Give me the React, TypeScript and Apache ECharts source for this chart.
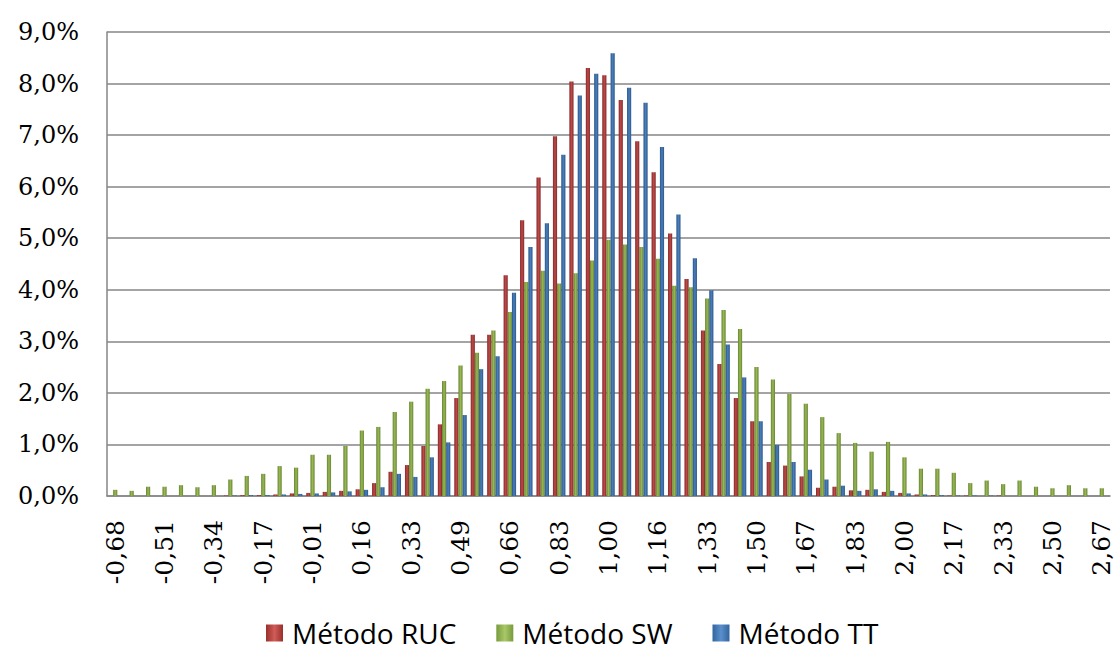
import React, { useEffect, useRef } from "react";
import * as echarts from "echarts";

const categories = [
  "-0,68","-0,62","-0,57","-0,51","-0,46","-0,40","-0,34","-0,29","-0,23","-0,17",
  "-0,12","-0,07","-0,01","0,05","0,10","0,16","0,21","0,27","0,33","0,38",
  "0,44","0,49","0,55","0,60","0,66","0,72","0,77","0,83","0,88","0,94",
  "1,00","1,05","1,11","1,16","1,22","1,27","1,33","1,39","1,44","1,50",
  "1,55","1,61","1,67","1,72","1,78","1,83","1,89","1,94","2,00","2,06",
  "2,11","2,17","2,22","2,28","2,33","2,39","2,45","2,50","2,56","2,61",
  "2,67",
];

const rucValues = [
  0,0,0,0,0,0,0,0.01,0.02,0.02,
  0.03,0.05,0.06,0.08,0.1,0.13,0.25,0.47,0.6,0.97,
  1.39,1.9,3.13,3.13,4.28,5.35,6.18,6.98,8.04,8.3,
  8.16,7.68,6.88,6.28,5.09,4.21,3.21,2.56,1.9,1.45,
  0.66,0.59,0.38,0.16,0.18,0.11,0.12,0.08,0.06,0.03,
  0.02,0.01,0.01,0,0.01,0,0,0,0,0,
  0,
];

const swValues = [
  0.12,0.1,0.18,0.18,0.21,0.17,0.21,0.32,0.39,0.43,
  0.58,0.55,0.8,0.8,0.97,1.27,1.34,1.63,1.83,2.08,
  2.23,2.53,2.78,3.21,3.57,4.15,4.37,4.12,4.32,4.57,
  4.97,4.88,4.83,4.6,4.08,4.05,3.83,3.61,3.24,2.5,
  2.26,1.98,1.79,1.53,1.22,1.03,0.86,1.05,0.75,0.53,
  0.53,0.45,0.25,0.3,0.23,0.3,0.18,0.15,0.21,0.15,
  0.15,
];

const ttValues = [
  0,0,0,0,0,0,0,0.01,0.02,0.02,
  0.03,0.04,0.05,0.07,0.09,0.12,0.17,0.43,0.37,0.75,
  1.04,1.57,2.46,2.71,3.94,4.83,5.29,6.62,7.77,8.19,
  8.59,7.92,7.63,6.77,5.46,4.61,3.99,2.94,2.3,1.45,
  0.99,0.66,0.51,0.32,0.2,0.1,0.13,0.1,0.05,0.03,
  0.02,0.01,0.01,0.01,0,0,0,0,0,0,
  0,
];

const seriesNames = ["Método RUC", "Método SW", "Método TT"];

function grad(edge: string, mid: string) {
  return new echarts.graphic.LinearGradient(0, 0, 1, 0, [
    { offset: 0, color: edge },
    { offset: 0.5, color: mid },
    { offset: 1, color: edge },
  ]);
}

export default function App() {
  const ref = useRef<HTMLDivElement>(null);
  useEffect(() => {
    if (!ref.current) return;
    const chart = echarts.init(ref.current, null, { renderer: "svg" });
    const serif = "DejaVu Serif";
    const colors = [
      grad("#85282a", "#bd4a47"),
      grad("#67842f", "#98b856"),
      grad("#2a578b", "#4b7eba"),
    ];
    const legendColors = [
      grad("#9a2f2c", "#cf5c58"),
      grad("#789a3c", "#a9c868"),
      grad("#32659e", "#5a8fcc"),
    ];
    const dataSets = [rucValues, swValues, ttValues];
    chart.setOption({
      animation: false,
      backgroundColor: "#ffffff",
      grid: { left: 107, right: 6, top: 32, bottom: 155, containLabel: false },
      legend: {
        left: 261,
        top: 614,
        itemWidth: 17,
        itemHeight: 17,
        itemGap: 40,
        icon: "rect",
        textStyle: { fontFamily: "Open Sans", fontSize: 28, color: "#000", padding: [0, 0, 0, 4] },
        data: seriesNames.map((n, i) => ({ name: n, itemStyle: { color: legendColors[i] } })),
      },
      xAxis: {
        type: "category",
        data: categories,
        axisLine: { show: true, lineStyle: { color: "#868686", width: 1.5 } },
        axisTick: { show: false },
        axisLabel: {
          interval: 2,
          rotate: 90,
          margin: 24,
          fontFamily: serif,
          fontSize: 25,
          color: "#000",
        },
      },
      yAxis: {
        type: "value",
        min: 0,
        max: 9,
        interval: 1,
        axisLine: { show: true, lineStyle: { color: "#868686", width: 1.5 } },
        axisTick: { show: false },
        splitLine: { show: true, lineStyle: { color: "#868686", width: 1.5 } },
        axisLabel: {
          margin: 28,
          fontFamily: serif,
          fontSize: 24,
          color: "#000",
          formatter: (v: number) => v.toFixed(1).replace(".", ",") + "%",
        },
      },
      series: seriesNames.map((n, i) => ({
        name: n,
        type: "bar",
        data: dataSets[i],
        barGap: "0%",
        barCategoryGap: "24%",
        itemStyle: { color: colors[i] },
      })),
    });
    return () => chart.dispose();
  }, []);
  return (
    <div
      ref={ref}
      style={{ position: "fixed", left: 0, top: 0, width: 1116, height: 651, background: "#fff" }}
    />
  );
}
